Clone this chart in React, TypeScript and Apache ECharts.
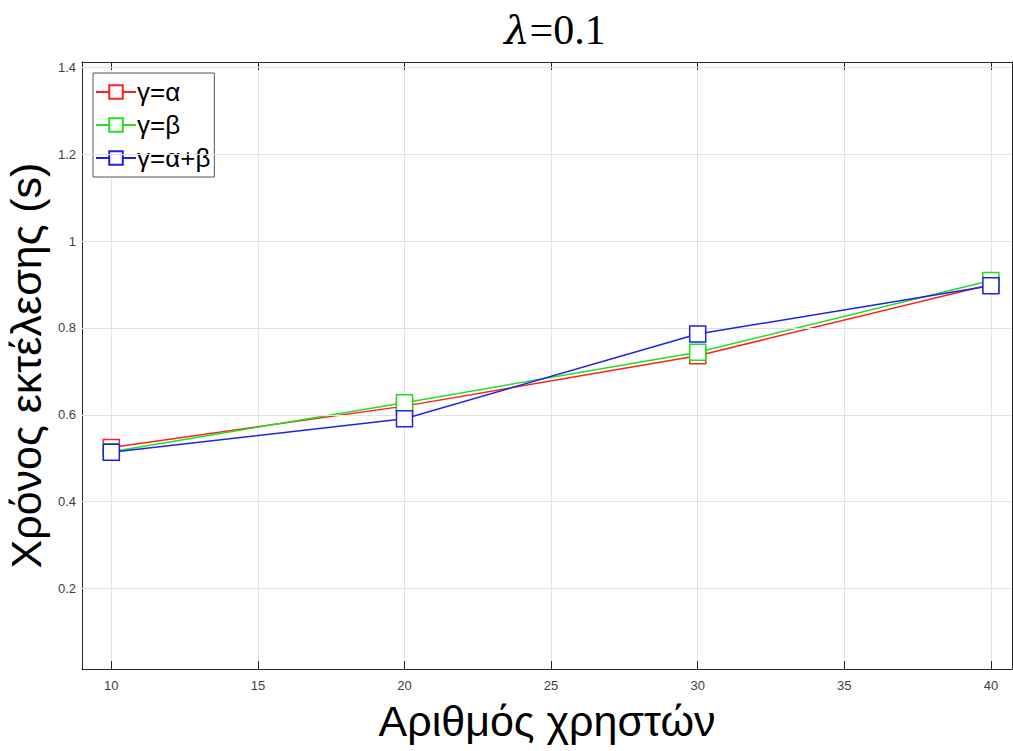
import React, { useEffect, useRef } from "react";
import * as echarts from "echarts";

const users = [10, 20, 30, 40];
const gammaA = [0.525, 0.62, 0.736, 0.9];
const gammaB = [0.515, 0.628, 0.744, 0.909];
const gammaAB = [0.514, 0.591, 0.786, 0.897];
const seriesNames = ["γ=α", "γ=β", "γ=α+β"];
const seriesColors = ["#ff2020", "#20e020", "#2020ee"];
const xTicks = [10, 15, 20, 25, 30, 35, 40];
const yTicks = [0.2, 0.4, 0.6, 0.8, 1, 1.2, 1.4];

export default function App() {
  const ref = useRef<HTMLDivElement>(null);
  useEffect(() => {
    const chart = echarts.init(ref.current!, null, { renderer: "svg" });
    const vals = [gammaA, gammaB, gammaAB];
    const axisLineStyle = { color: "#262626", width: 1 };
    const tickLabel = { color: "#404040", fontSize: 13, fontFamily: "Liberation Sans, Arial" };
    chart.setOption({
      animation: false,
      backgroundColor: "#ffffff",
      title: {
        text: "{i|λ}{n|=0.1}",
        left: 550,
        textAlign: "center",
        top: 4,
        textStyle: {
          fontWeight: "normal",
          rich: {
            i: { fontFamily: "DejaVu Serif", fontStyle: "italic", fontWeight: "normal", fontSize: 40, color: "#000" },
            n: { fontFamily: "Liberation Serif", fontWeight: "normal", fontSize: 42, color: "#000" },
          },
        },
      },
      legend: {
        left: 93,
        top: 73,
        orient: "vertical",
        itemWidth: 40,
        itemHeight: 17,
        itemGap: 7,
        padding: [6, 4, 6, 2],
        borderColor: "#555",
        borderWidth: 1,
        backgroundColor: "#fff",
        textStyle: { fontSize: 26, fontFamily: "Liberation Sans, Arial", color: "#000", padding: [0, 0, 0, -4] },
        data: seriesNames,
      },
      grid: { left: 82, top: 62, right: 1, bottom: 82, containLabel: false, outerBoundsMode: "none" },
      xAxis: [
        {
          type: "value",
          min: 9,
          max: 40.72,
          interval: 5,
          name: "Αριθμός χρηστών",
          nameLocation: "middle",
          nameGap: 30,
          nameTextStyle: { fontSize: 43, fontFamily: "Liberation Sans, Arial", color: "#000" },
          axisLine: { show: true, onZero: false, lineStyle: axisLineStyle },
          axisTick: { show: true, inside: true, length: 8, lineStyle: axisLineStyle, customValues: xTicks },
          axisLabel: { ...tickLabel, margin: 10, customValues: xTicks },
          splitLine: { show: true, lineStyle: { color: "#e3e3e3" } },
        },
        {
          type: "value",
          position: "top",
          min: 9,
          max: 40.72,
          interval: 5,
          axisLine: { show: true, onZero: false, lineStyle: axisLineStyle },
          axisTick: { show: true, inside: true, length: 8, lineStyle: axisLineStyle, customValues: xTicks },
          axisLabel: { show: false },
          splitLine: { show: false },
        },
      ],
      yAxis: [
        {
          type: "value",
          min: 0.015,
          max: 1.412,
          name: "Χρόνος εκτέλεσης (s)",
          nameLocation: "middle",
          nameGap: 24,
          nameTextStyle: { fontSize: 43, fontFamily: "Liberation Sans, Arial", color: "#000" },
          axisLine: { show: true, onZero: false, lineStyle: axisLineStyle },
          axisTick: { show: true, inside: true, length: 8, lineStyle: axisLineStyle, customValues: yTicks },
          axisLabel: { ...tickLabel, margin: 6, customValues: yTicks },
          splitLine: { show: false },
        },
        {
          type: "value",
          position: "right",
          min: 0.015,
          max: 1.412,
          axisLine: { show: true, onZero: false, lineStyle: axisLineStyle },
          axisTick: { show: true, inside: true, length: 8, lineStyle: axisLineStyle, customValues: yTicks },
          axisLabel: { show: false },
          splitLine: { show: false },
        },
      ],
      series: [
        {
          type: "line",
          markLine: {
            silent: true,
            symbol: "none",
            label: { show: false },
            lineStyle: { color: "#e3e3e3", type: "solid", width: 1 },
            data: yTicks.map((v) => ({ yAxis: v })),
          },
          data: [],
        },
        ...seriesNames.map((n, i) => ({
          name: n,
          type: "line",
          data: users.map((u, k) => [u, vals[i][k]]),
          symbol: "rect",
          symbolSize: 16,
          itemStyle: { color: "#fff", borderColor: seriesColors[i], borderWidth: 1.5 },
          lineStyle: { color: seriesColors[i], width: 1.5 },
          z: 3 + i,
        })),
      ],
    });
    return () => chart.dispose();
  }, []);
  return (
    <div
      ref={ref}
      style={{ position: "fixed", left: 0, top: 0, width: 1013, height: 751, background: "#fff" }}
    />
  );
}
